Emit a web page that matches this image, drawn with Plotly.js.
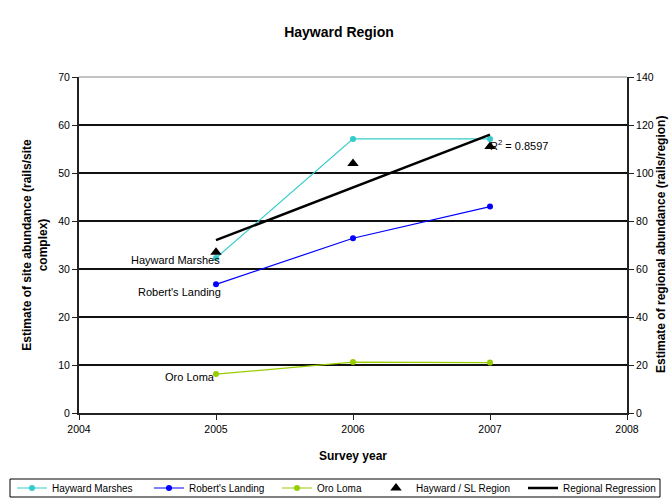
<!DOCTYPE html>
<html>
<head>
<meta charset="utf-8">
<script src="https://cdn.plot.ly/plotly-3.0.1.min.js"></script>
<style>html,body{margin:0;padding:0;background:#fff}#chart{width:670px;height:498px}</style>
</head>
<body>
<div id="chart"></div>
<script>
// ---- data ----
const years = [2005, 2006, 2007];
const haywardMarshes = [32.3, 57.1, 57.1];
const robertsLanding = [26.8, 36.4, 43.0];
const oroLoma = [8.1, 10.6, 10.5];
const regionYears = [2005, 2006, 2007];
const regionAbundance = [67, 104, 111];
const regressionYears = [2005, 2007];
const regressionValues = [72, 116];
const rSquaredText = "R<sup>2</sup> = 0.8597";
const xTicks = [2004, 2005, 2006, 2007, 2008];
const leftTicks = [0, 10, 20, 30, 40, 50, 60, 70];
const rightTicks = [0, 20, 40, 60, 80, 100, 120, 140];

const FONT = "Liberation Sans, Arial, sans-serif";
const L = 79, R = 627, T = 77, B = 413;
const W = R - L, H = B - T;
const px = p => (p - L) / W;
const py = p => (B - p) / H;

const traces = [
  {x: years, y: haywardMarshes, name: "Hayward Marshes", mode: "lines+markers",
   line: {color: "#33CCCC", width: 1.2}, marker: {color: "#33CCCC", size: 6}, legend: "legend"},
  {x: years, y: robertsLanding, name: "Robert's Landing", mode: "lines+markers",
   line: {color: "#0000FF", width: 1.2}, marker: {color: "#0000FF", size: 6}, legend: "legend2"},
  {x: years, y: oroLoma, name: "Oro Loma", mode: "lines+markers",
   line: {color: "#99CC00", width: 1.2}, marker: {color: "#99CC00", size: 6}, legend: "legend3"},
  {x: regionYears, y: regionAbundance, name: "Hayward / SL Region", mode: "markers", yaxis: "y2",
   marker: {color: "#000", size: 10, symbol: "triangle-up"}, legend: "legend4"},
  {x: regressionYears, y: regressionValues, name: "Regional Regression", mode: "lines", yaxis: "y2",
   line: {color: "#000", width: 2.5}, legend: "legend5"}
];

function leg(xp) {
  return {x: xp / 670, y: 1 - 488 / 498, xref: "container", yref: "container",
    xanchor: "left", yanchor: "middle", orientation: "h",
    font: {family: FONT, size: 10, color: "#000"}, bgcolor: "rgba(0,0,0,0)",
    borderwidth: 0, itemwidth: 30, tracegroupgap: 0};
}

const layout = {
  width: 670, height: 498,
  margin: {l: L, r: 670 - R, t: T, b: 498 - B, pad: 0, autoexpand: false},
  paper_bgcolor: "#fff", plot_bgcolor: "#fff",
  font: {family: FONT, size: 11, color: "#000"},
  title: {text: "<b>Hayward Region</b>", x: 0.506, xanchor: "center", y: 0.936, yanchor: "middle",
    font: {family: FONT, size: 14, color: "#000"}},
  showlegend: true,
  xaxis: {range: [2004, 2008], tickvals: xTicks, ticktext: xTicks.map(String), automargin: false,
    showgrid: false, zeroline: false, showline: true, linecolor: "#222", linewidth: 2,
    ticks: "outside", ticklen: 5, tickcolor: "#222", tickwidth: 1,
    tickfont: {family: FONT, size: 10.5, color: "#000"},
    title: {text: "<b>Survey year</b>", standoff: 18, font: {family: FONT, size: 12, color: "#000"}}},
  yaxis: {range: [0, 70], tickvals: leftTicks, showgrid: true, gridcolor: "#111", gridwidth: 1.2,
    automargin: false, zeroline: false, showline: true, linecolor: "#222", linewidth: 2,
    ticks: "outside", ticklen: 5, tickcolor: "#222",
    tickfont: {family: FONT, size: 10.5, color: "#000"},
    title: {text: "<b>Estimate of site abundance (rails/site<br>complex)</b>", standoff: 8,
      font: {family: FONT, size: 12, color: "#000"}}},
  yaxis2: {range: [0, 140], tickvals: rightTicks, overlaying: "y", side: "right", automargin: false,
    showgrid: false, zeroline: false, showline: true, linecolor: "#222", linewidth: 2,
    ticks: "outside", ticklen: 5, tickcolor: "#222",
    tickfont: {family: FONT, size: 10.5, color: "#000"}},
  legend: leg(12), legend2: leg(149), legend3: leg(277), legend4: leg(376), legend5: leg(523),
  shapes: [
    {type: "line", xref: "paper", yref: "paper", x0: 0, x1: 1, y0: 1, y1: 1,
     line: {color: "#888", width: 1.2}, layer: "above"},
    {type: "rect", xref: "paper", yref: "paper", x0: px(10), x1: px(660), y0: py(479), y1: py(497),
     line: {color: "#000", width: 1}, fillcolor: "rgba(0,0,0,0)"}
  ],
  annotations: [
    {x: px(661), y: 0.5, xref: "paper", yref: "paper", text: "<b>Estimate of regional abundance (rails/region)</b>",
     textangle: -90, showarrow: false, xanchor: "center", yanchor: "middle",
     font: {family: FONT, size: 12, color: "#000"}},
    {x: years[0], y: haywardMarshes[0], xref: "x", yref: "y", text: "Hayward Marshes", showarrow: false,
     xanchor: "right", yanchor: "middle", xshift: 6, yshift: -2, font: {family: FONT, size: 11, color: "#000"}},
    {x: years[0], y: robertsLanding[0], xref: "x", yref: "y", text: "Robert's Landing", showarrow: false,
     xanchor: "right", yanchor: "middle", xshift: 7, yshift: -8, font: {family: FONT, size: 11, color: "#000"}},
    {x: years[0], y: oroLoma[0], xref: "x", yref: "y", text: "Oro Loma", showarrow: false,
     xanchor: "right", yanchor: "middle", xshift: 1, yshift: -3, font: {family: FONT, size: 11, color: "#000"}},
    {x: regressionYears[1], y: regressionValues[1], xref: "x", yref: "y2", text: rSquaredText, showarrow: false,
     xanchor: "left", yanchor: "middle", xshift: -2, yshift: -10, font: {family: FONT, size: 11, color: "#000"}}
  ]
};

Plotly.newPlot("chart", traces, layout, {displayModeBar: false, staticPlot: true});
</script>
</body>
</html>
